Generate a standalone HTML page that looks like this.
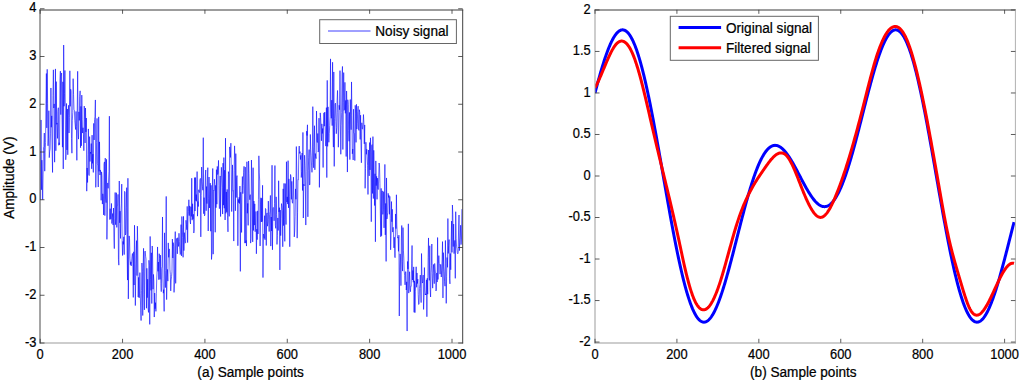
<!DOCTYPE html><html><head><meta charset="utf-8"><style>
html,body{margin:0;padding:0;background:#fff;overflow:hidden;}
svg{display:block;font-family:"Liberation Sans",sans-serif;font-kerning:none;}
text{white-space:pre;}
</style></head><body>
<svg width="1024" height="386" viewBox="0 0 1024 386">
<rect width="1024" height="386" fill="#fff"/>
<defs></defs>
<defs><clipPath id="cl"><rect x="40.0" y="9.8" width="422.7" height="333.0"/></clipPath><clipPath id="cr"><rect x="595.0" y="9.8" width="420.4" height="333.0"/></clipPath></defs>
<g clip-path="url(#cl)"><polyline points="40.61,199.75 41.02,119.96 41.44,189.75 41.85,160.16 42.26,175.03 42.67,199.75 43.08,174.02 43.49,147.33 43.91,146.36 44.32,133.02 44.73,171.18 45.14,152.26 45.55,142.33 45.97,103.51 46.38,73.53 46.79,127.88 47.20,69.33 47.61,103.72 48.02,145.80 48.44,138.16 48.85,110.73 49.26,157.64 49.67,151.44 50.08,149.08 50.50,133.91 50.91,87.96 51.32,127.23 51.73,115.86 52.14,150.30 52.55,172.46 52.97,95.54 53.38,69.83 53.79,108.03 54.20,103.91 54.61,162.19 55.02,113.99 55.44,68.91 55.85,150.76 56.26,81.61 56.67,124.31 57.08,122.94 57.50,138.40 57.91,111.54 58.32,107.72 58.73,145.29 59.14,142.72 59.55,144.74 59.97,80.17 60.38,71.15 60.79,114.63 61.20,76.20 61.61,72.98 62.03,119.88 62.44,147.16 62.85,81.81 63.26,168.92 63.67,45.04 64.08,106.26 64.50,93.40 64.91,70.48 65.32,110.91 65.73,159.79 66.14,154.04 66.56,103.48 66.97,149.94 67.38,108.98 67.79,154.76 68.20,115.40 68.61,105.29 69.03,133.04 69.44,117.77 69.85,70.82 70.26,106.35 70.67,89.25 71.09,91.29 71.50,138.57 71.91,153.19 72.32,120.73 72.73,112.81 73.14,78.66 73.56,94.28 73.97,109.40 74.38,110.11 74.79,120.47 75.20,124.99 75.61,129.52 76.03,111.47 76.44,126.36 76.85,160.34 77.26,108.96 77.67,71.30 78.09,132.05 78.50,139.13 78.91,111.87 79.32,120.42 79.73,96.68 80.14,90.84 80.56,147.74 80.97,106.39 81.38,145.82 81.79,95.11 82.20,119.35 82.62,133.02 83.03,127.74 83.44,134.44 83.85,150.69 84.26,106.08 84.67,119.66 85.09,142.98 85.50,108.00 85.91,131.87 86.32,118.04 86.73,191.16 87.15,167.97 87.56,182.47 87.97,154.34 88.38,128.92 88.79,174.49 89.20,175.55 89.62,136.61 90.03,161.50 90.44,152.08 90.85,153.56 91.26,143.55 91.68,168.82 92.09,135.12 92.50,163.37 92.91,154.13 93.32,172.42 93.73,123.38 94.15,139.98 94.56,119.50 94.97,116.89 95.38,99.95 95.79,187.35 96.20,164.44 96.62,142.34 97.03,118.38 97.44,163.72 97.85,165.84 98.26,187.02 98.68,116.87 99.09,171.36 99.50,141.89 99.91,175.04 100.32,169.94 100.73,173.15 101.15,200.34 101.56,171.86 101.97,175.90 102.38,204.09 102.79,193.79 103.21,196.87 103.62,214.93 104.03,164.18 104.44,161.90 104.85,215.65 105.26,158.09 105.68,197.96 106.09,202.63 106.50,159.34 106.91,239.35 107.32,216.09 107.74,182.94 108.15,188.34 108.56,181.02 108.97,171.41 109.38,116.19 109.79,219.58 110.21,208.71 110.62,219.18 111.03,218.51 111.44,203.45 111.85,223.53 112.27,217.27 112.68,213.49 113.09,225.05 113.50,208.02 113.91,237.92 114.32,248.62 114.74,218.24 115.15,192.50 115.56,224.66 115.97,217.84 116.38,192.74 116.79,227.41 117.21,205.68 117.62,205.54 118.03,194.39 118.44,259.35 118.85,265.17 119.27,181.00 119.68,222.81 120.09,211.16 120.50,238.45 120.91,212.31 121.32,203.89 121.74,184.10 122.15,240.25 122.56,255.51 122.97,241.50 123.38,244.33 123.80,236.77 124.21,254.61 124.62,191.34 125.03,192.61 125.44,234.97 125.85,233.29 126.27,207.70 126.68,187.67 127.09,250.26 127.50,280.08 127.91,178.26 128.33,298.88 128.74,259.73 129.15,235.90 129.56,238.85 129.97,258.47 130.38,264.69 130.80,261.76 131.21,265.91 131.62,261.60 132.03,256.44 132.44,253.47 132.86,263.88 133.27,297.41 133.68,251.81 134.09,285.02 134.50,225.23 134.91,252.21 135.33,305.55 135.74,275.54 136.15,255.82 136.56,240.61 136.97,275.63 137.38,226.17 137.80,247.02 138.21,297.02 138.62,277.36 139.03,297.93 139.44,297.02 139.86,272.61 140.27,293.81 140.68,310.11 141.09,320.56 141.50,290.78 141.91,263.03 142.33,271.50 142.74,315.52 143.15,267.78 143.56,248.32 143.97,294.61 144.39,309.87 144.80,251.91 145.21,251.02 145.62,256.26 146.03,259.03 146.44,308.24 146.86,268.32 147.27,297.69 147.68,279.19 148.09,308.11 148.50,312.42 148.92,260.29 149.33,265.27 149.74,324.38 150.15,236.44 150.56,279.57 150.97,290.38 151.39,252.79 151.80,303.52 152.21,245.98 152.62,255.93 153.03,289.21 153.44,274.43 153.86,281.06 154.27,317.04 154.68,293.03 155.09,308.71 155.50,302.68 155.92,311.37 156.33,293.71 156.74,277.96 157.15,270.52 157.56,246.95 157.97,271.33 158.39,262.04 158.80,279.69 159.21,253.71 159.62,258.30 160.03,279.33 160.45,255.14 160.86,283.64 161.27,291.64 161.68,268.34 162.09,266.59 162.50,216.99 162.92,278.82 163.33,293.18 163.74,289.61 164.15,311.39 164.56,232.85 164.98,270.43 165.39,287.62 165.80,270.43 166.21,196.41 166.62,299.61 167.03,277.27 167.45,269.37 167.86,281.13 168.27,242.90 168.68,257.33 169.09,249.42 169.51,249.06 169.92,269.20 170.33,274.41 170.74,290.89 171.15,280.02 171.56,276.57 171.98,271.70 172.39,239.09 172.80,258.04 173.21,242.62 173.62,246.11 174.04,292.38 174.45,282.68 174.86,245.03 175.27,231.61 175.68,283.36 176.09,250.13 176.51,238.87 176.92,238.28 177.33,253.83 177.74,237.69 178.15,241.25 178.56,246.45 178.98,233.25 179.39,241.35 179.80,249.66 180.21,254.53 180.62,253.36 181.04,224.64 181.45,255.90 181.86,216.51 182.27,227.91 182.68,237.68 183.09,257.32 183.51,216.37 183.92,250.61 184.33,232.65 184.74,239.16 185.15,243.19 185.57,242.75 185.98,220.27 186.39,224.26 186.80,229.76 187.21,206.40 187.62,242.58 188.04,216.92 188.45,211.69 188.86,199.76 189.27,215.64 189.68,205.86 190.10,220.82 190.51,224.02 190.92,206.75 191.33,216.45 191.74,178.23 192.15,220.16 192.57,203.76 192.98,218.95 193.39,214.30 193.80,233.03 194.21,230.02 194.62,177.61 195.04,211.06 195.45,177.56 195.86,200.68 196.27,194.58 196.68,201.34 197.10,171.58 197.51,216.16 197.92,201.42 198.33,206.52 198.74,189.74 199.15,192.30 199.57,192.53 199.98,179.83 200.39,178.40 200.80,236.87 201.21,195.45 201.63,167.06 202.04,181.86 202.45,186.83 202.86,190.23 203.27,137.68 203.68,213.71 204.10,197.64 204.51,215.87 204.92,214.81 205.33,176.11 205.74,170.01 206.16,210.78 206.57,186.54 206.98,203.62 207.39,180.92 207.80,167.67 208.21,230.99 208.63,198.28 209.04,177.01 209.45,207.98 209.86,194.86 210.27,183.12 210.69,231.22 211.10,185.32 211.51,259.44 211.92,253.76 212.33,191.15 212.74,168.48 213.16,254.16 213.57,190.19 213.98,190.60 214.39,179.20 214.80,184.51 215.21,232.28 215.63,185.37 216.04,207.70 216.45,169.66 216.86,204.19 217.27,166.41 217.69,174.52 218.10,172.85 218.51,160.40 218.92,185.40 219.33,208.68 219.74,208.15 220.16,175.96 220.57,216.52 220.98,180.27 221.39,167.32 221.80,177.81 222.22,187.35 222.63,214.05 223.04,163.15 223.45,205.15 223.86,157.58 224.27,208.24 224.69,170.19 225.10,219.97 225.51,138.15 225.92,213.34 226.33,191.95 226.75,211.90 227.16,189.41 227.57,215.76 227.98,231.84 228.39,171.61 228.80,174.47 229.22,216.36 229.63,146.92 230.04,150.44 230.45,157.45 230.86,143.16 231.28,169.13 231.69,211.56 232.10,187.93 232.51,164.90 232.92,191.11 233.33,190.70 233.75,241.08 234.16,170.58 234.57,145.87 234.98,159.39 235.39,210.79 235.81,153.63 236.22,197.53 236.63,177.74 237.04,175.61 237.45,195.08 237.86,245.76 238.28,199.36 238.69,202.66 239.10,197.31 239.51,203.50 239.92,186.06 240.33,271.38 240.75,192.23 241.16,202.20 241.57,232.46 241.98,190.32 242.39,176.56 242.81,193.64 243.22,185.61 243.63,172.33 244.04,166.35 244.45,193.14 244.86,243.15 245.28,167.10 245.69,242.91 246.10,240.41 246.51,246.05 246.92,161.74 247.34,213.28 247.75,203.42 248.16,225.38 248.57,160.97 248.98,173.32 249.39,195.12 249.81,199.76 250.22,194.64 250.63,243.12 251.04,238.21 251.45,160.04 251.87,180.00 252.28,196.95 252.69,241.89 253.10,167.69 253.51,230.49 253.92,201.04 254.34,225.15 254.75,203.86 255.16,231.72 255.57,225.50 255.98,211.46 256.39,253.78 256.81,229.20 257.22,239.66 257.63,210.86 258.04,233.97 258.45,199.79 258.87,155.82 259.28,172.90 259.69,181.06 260.10,245.96 260.51,204.15 260.92,197.77 261.34,222.01 261.75,198.29 262.16,221.60 262.57,185.28 262.98,277.58 263.40,234.12 263.81,235.60 264.22,238.38 264.63,215.70 265.04,239.81 265.45,208.44 265.87,209.19 266.28,245.52 266.69,214.19 267.10,212.88 267.51,226.20 267.93,221.93 268.34,201.09 268.75,219.63 269.16,231.56 269.57,214.43 269.98,211.36 270.40,195.44 270.81,246.10 271.22,217.01 271.63,230.93 272.04,165.23 272.46,249.81 272.87,208.82 273.28,207.45 273.69,208.08 274.10,220.79 274.51,203.68 274.93,165.53 275.34,225.27 275.75,228.37 276.16,196.84 276.57,214.77 276.99,244.45 277.40,235.39 277.81,217.94 278.22,230.48 278.63,180.78 279.04,211.90 279.46,207.69 279.87,269.94 280.28,210.07 280.69,235.63 281.10,218.75 281.51,203.61 281.93,205.97 282.34,210.42 282.75,246.76 283.16,188.83 283.57,225.62 283.99,183.40 284.40,219.78 284.81,241.37 285.22,183.56 285.63,201.79 286.04,224.54 286.46,161.72 286.87,202.05 287.28,196.86 287.69,204.08 288.10,160.65 288.52,207.90 288.93,178.86 289.34,196.75 289.75,246.74 290.16,194.98 290.57,174.47 290.99,177.10 291.40,199.34 291.81,181.36 292.22,202.15 292.63,203.26 293.05,195.11 293.46,177.15 293.87,199.09 294.28,236.88 294.69,230.97 295.10,216.60 295.52,188.90 295.93,199.26 296.34,146.56 296.75,170.13 297.16,238.13 297.57,212.84 297.99,179.42 298.40,179.68 298.81,151.39 299.22,146.03 299.63,153.45 300.05,151.64 300.46,159.52 300.87,155.36 301.28,177.50 301.69,171.51 302.10,153.05 302.52,190.49 302.93,132.42 303.34,218.01 303.75,184.26 304.16,185.82 304.58,155.21 304.99,165.20 305.40,186.35 305.81,225.06 306.22,171.81 306.63,131.14 307.05,135.57 307.46,124.81 307.87,216.83 308.28,170.20 308.69,157.76 309.11,149.58 309.52,185.07 309.93,184.23 310.34,134.45 310.75,149.48 311.16,155.83 311.58,165.93 311.99,172.33 312.40,162.11 312.81,106.64 313.22,146.28 313.64,167.78 314.05,147.73 314.46,125.71 314.87,169.82 315.28,153.50 315.69,156.76 316.11,158.60 316.52,111.03 316.93,140.56 317.34,142.51 317.75,133.49 318.16,152.05 318.58,150.33 318.99,118.14 319.40,187.39 319.81,152.30 320.22,112.86 320.64,117.71 321.05,126.62 321.46,140.85 321.87,123.86 322.28,133.51 322.69,128.48 323.11,167.51 323.52,123.75 323.93,112.89 324.34,126.20 324.75,112.06 325.17,126.68 325.58,145.87 325.99,146.07 326.40,107.65 326.81,177.60 327.22,80.38 327.64,146.38 328.05,106.87 328.46,132.99 328.87,142.30 329.28,133.62 329.70,125.65 330.11,116.69 330.52,58.89 330.93,110.86 331.34,118.28 331.75,100.15 332.17,125.65 332.58,62.23 332.99,129.19 333.40,147.11 333.81,71.93 334.23,166.40 334.64,118.69 335.05,104.08 335.46,103.13 335.87,121.66 336.28,133.73 336.70,127.75 337.11,100.51 337.52,90.48 337.93,112.52 338.34,147.21 338.75,131.05 339.17,105.28 339.58,109.70 339.99,70.64 340.40,124.94 340.81,154.27 341.23,125.86 341.64,112.44 342.05,74.96 342.46,66.44 342.87,149.51 343.28,102.80 343.70,72.58 344.11,110.39 344.52,109.15 344.93,82.35 345.34,113.32 345.76,100.42 346.17,156.53 346.58,90.98 346.99,109.65 347.40,172.06 347.81,99.74 348.23,104.55 348.64,130.59 349.05,141.25 349.46,112.41 349.87,159.60 350.29,99.50 350.70,114.79 351.11,129.66 351.52,81.93 351.93,115.41 352.34,153.77 352.76,149.01 353.17,159.97 353.58,109.17 353.99,133.26 354.40,133.47 354.82,160.55 355.23,105.34 355.64,113.12 356.05,142.37 356.46,104.29 356.87,129.08 357.29,123.31 357.70,111.25 358.11,106.16 358.52,128.98 358.93,130.43 359.34,109.72 359.76,112.62 360.17,139.43 360.58,115.16 360.99,143.93 361.40,162.79 361.82,122.79 362.23,128.57 362.64,129.19 363.05,124.49 363.46,114.57 363.87,122.67 364.29,143.83 364.70,124.92 365.11,188.34 365.52,168.45 365.93,142.24 366.35,154.29 366.76,149.25 367.17,156.14 367.58,165.28 367.99,194.46 368.40,149.97 368.82,165.71 369.23,175.87 369.64,142.53 370.05,169.92 370.46,137.81 370.88,152.96 371.29,221.71 371.70,145.46 372.11,144.60 372.52,193.48 372.93,136.60 373.35,198.56 373.76,150.35 374.17,174.13 374.58,205.52 374.99,173.77 375.41,241.77 375.82,160.92 376.23,185.63 376.64,176.37 377.05,199.33 377.46,178.11 377.88,188.21 378.29,189.51 378.70,177.27 379.11,163.00 379.52,165.99 379.94,183.62 380.35,214.04 380.76,236.76 381.17,188.37 381.58,235.75 381.99,190.81 382.41,191.09 382.82,214.39 383.23,209.61 383.64,191.64 384.05,227.86 384.46,205.89 384.88,164.41 385.29,234.92 385.70,203.45 386.11,261.41 386.52,177.94 386.94,218.99 387.35,215.89 387.76,212.48 388.17,193.32 388.58,197.42 388.99,195.33 389.41,214.29 389.82,196.39 390.23,218.38 390.64,249.80 391.05,235.85 391.47,201.56 391.88,221.75 392.29,209.29 392.70,232.05 393.11,227.29 393.52,234.85 393.94,247.90 394.35,237.26 394.76,257.24 395.17,257.71 395.58,213.97 396.00,228.63 396.41,194.78 396.82,224.97 397.23,234.48 397.64,238.09 398.05,237.33 398.47,251.34 398.88,235.15 399.29,316.01 399.70,267.94 400.11,253.92 400.52,259.03 400.94,285.63 401.35,238.90 401.76,225.49 402.17,261.59 402.58,271.10 403.00,227.62 403.41,250.19 403.82,258.08 404.23,271.26 404.64,275.24 405.05,284.85 405.47,271.79 405.88,271.67 406.29,290.01 406.70,281.83 407.11,331.06 407.53,261.49 407.94,268.92 408.35,223.82 408.76,293.12 409.17,281.16 409.58,271.76 410.00,288.89 410.41,291.73 410.82,286.09 411.23,286.19 411.64,263.88 412.06,245.49 412.47,280.00 412.88,270.47 413.29,282.31 413.70,266.86 414.11,312.28 414.53,280.89 414.94,312.67 415.35,291.26 415.76,281.36 416.17,266.78 416.59,287.28 417.00,272.95 417.41,283.53 417.82,279.15 418.23,294.64 418.64,304.46 419.06,304.20 419.47,288.50 419.88,284.53 420.29,275.07 420.70,288.74 421.12,302.58 421.53,253.52 421.94,275.57 422.35,283.05 422.76,281.81 423.17,275.06 423.59,309.43 424.00,297.27 424.41,267.55 424.82,289.88 425.23,294.98 425.64,293.87 426.06,294.95 426.47,279.82 426.88,316.74 427.29,278.20 427.70,294.20 428.12,257.62 428.53,237.95 428.94,275.22 429.35,280.35 429.76,245.74 430.17,289.69 430.59,296.99 431.00,272.60 431.41,265.72 431.82,244.00 432.23,273.74 432.65,288.16 433.06,278.20 433.47,264.44 433.88,272.59 434.29,283.68 434.70,263.48 435.12,269.05 435.53,273.40 435.94,290.98 436.35,289.98 436.76,272.93 437.18,282.04 437.59,237.53 438.00,279.48 438.41,263.23 438.82,255.61 439.23,263.30 439.65,264.91 440.06,274.15 440.47,264.64 440.88,264.32 441.29,277.02 441.70,270.10 442.12,259.91 442.53,241.59 442.94,297.96 443.35,252.66 443.76,266.84 444.18,271.81 444.59,281.76 445.00,286.19 445.41,240.47 445.82,263.29 446.23,303.37 446.65,276.31 447.06,257.53 447.47,267.32 447.88,218.54 448.29,253.45 448.71,245.34 449.12,239.58 449.53,278.82 449.94,283.88 450.35,253.51 450.76,269.76 451.18,241.85 451.59,221.06 452.00,252.39 452.41,205.00 452.82,214.33 453.24,246.56 453.65,224.07 454.06,253.62 454.47,245.01 454.88,240.42 455.29,278.35 455.71,211.71 456.12,238.25 456.53,246.21 456.94,248.80 457.35,252.75 457.77,253.80 458.18,252.81 458.59,229.05 459.00,215.01 459.41,250.65 459.82,242.26 460.24,237.13 460.65,225.21 461.06,244.60 461.47,239.08 461.88,209.13" fill="none" stroke="#0000ff" stroke-width="0.6" stroke-linejoin="miter"/></g>
<line x1="39.5" y1="10" x2="463.2" y2="10" stroke="#3a3a3a"/>
<line x1="39.5" y1="343" x2="463.2" y2="343" stroke="#9b9b9b"/>
<line x1="40.0" y1="9.5" x2="40.0" y2="343.5" stroke="#4a4a4a"/>
<line x1="462.7" y1="9.5" x2="462.7" y2="343.5" stroke="#404040"/>
<line x1="40.20" y1="342.8" x2="40.20" y2="338.8" stroke="#333" stroke-width="0.8"/>
<line x1="40.20" y1="9.8" x2="40.20" y2="13.8" stroke="#333" stroke-width="0.8"/>
<text transform="translate(40.20,358.70) scale(0.9200,1.0000)" text-anchor="middle" font-size="14.0" fill="#000" stroke="#000" stroke-width="0.22">0</text>
<line x1="122.56" y1="342.8" x2="122.56" y2="338.8" stroke="#333" stroke-width="0.8"/>
<line x1="122.56" y1="9.8" x2="122.56" y2="13.8" stroke="#333" stroke-width="0.8"/>
<text transform="translate(122.56,358.70) scale(0.9200,1.0000)" text-anchor="middle" font-size="14.0" fill="#000" stroke="#000" stroke-width="0.22">200</text>
<line x1="204.92" y1="342.8" x2="204.92" y2="338.8" stroke="#333" stroke-width="0.8"/>
<line x1="204.92" y1="9.8" x2="204.92" y2="13.8" stroke="#333" stroke-width="0.8"/>
<text transform="translate(204.92,358.70) scale(0.9200,1.0000)" text-anchor="middle" font-size="14.0" fill="#000" stroke="#000" stroke-width="0.22">400</text>
<line x1="287.28" y1="342.8" x2="287.28" y2="338.8" stroke="#333" stroke-width="0.8"/>
<line x1="287.28" y1="9.8" x2="287.28" y2="13.8" stroke="#333" stroke-width="0.8"/>
<text transform="translate(287.28,358.70) scale(0.9200,1.0000)" text-anchor="middle" font-size="14.0" fill="#000" stroke="#000" stroke-width="0.22">600</text>
<line x1="369.64" y1="342.8" x2="369.64" y2="338.8" stroke="#333" stroke-width="0.8"/>
<line x1="369.64" y1="9.8" x2="369.64" y2="13.8" stroke="#333" stroke-width="0.8"/>
<text transform="translate(369.64,358.70) scale(0.9200,1.0000)" text-anchor="middle" font-size="14.0" fill="#000" stroke="#000" stroke-width="0.22">800</text>
<line x1="452.00" y1="342.8" x2="452.00" y2="338.8" stroke="#333" stroke-width="0.8"/>
<line x1="452.00" y1="9.8" x2="452.00" y2="13.8" stroke="#333" stroke-width="0.8"/>
<text transform="translate(452.00,358.70) scale(0.9200,1.0000)" text-anchor="middle" font-size="14.0" fill="#000" stroke="#000" stroke-width="0.22">1000</text>
<line x1="40.0" y1="343.00" x2="44.5" y2="343.00" stroke="#333" stroke-width="0.8"/>
<line x1="462.7" y1="343.00" x2="458.2" y2="343.00" stroke="#333" stroke-width="0.8"/>
<text transform="translate(36.40,346.70) scale(0.9200,1.0000)" text-anchor="end" font-size="14.0" fill="#000" stroke="#000" stroke-width="0.22">-3</text>
<line x1="40.0" y1="295.25" x2="44.5" y2="295.25" stroke="#333" stroke-width="0.8"/>
<line x1="462.7" y1="295.25" x2="458.2" y2="295.25" stroke="#333" stroke-width="0.8"/>
<text transform="translate(36.40,298.95) scale(0.9200,1.0000)" text-anchor="end" font-size="14.0" fill="#000" stroke="#000" stroke-width="0.22">-2</text>
<line x1="40.0" y1="247.50" x2="44.5" y2="247.50" stroke="#333" stroke-width="0.8"/>
<line x1="462.7" y1="247.50" x2="458.2" y2="247.50" stroke="#333" stroke-width="0.8"/>
<text transform="translate(36.40,251.20) scale(0.9200,1.0000)" text-anchor="end" font-size="14.0" fill="#000" stroke="#000" stroke-width="0.22">-1</text>
<line x1="40.0" y1="199.75" x2="44.5" y2="199.75" stroke="#333" stroke-width="0.8"/>
<line x1="462.7" y1="199.75" x2="458.2" y2="199.75" stroke="#333" stroke-width="0.8"/>
<text transform="translate(36.40,203.45) scale(0.9200,1.0000)" text-anchor="end" font-size="14.0" fill="#000" stroke="#000" stroke-width="0.22">0</text>
<line x1="40.0" y1="152.00" x2="44.5" y2="152.00" stroke="#333" stroke-width="0.8"/>
<line x1="462.7" y1="152.00" x2="458.2" y2="152.00" stroke="#333" stroke-width="0.8"/>
<text transform="translate(36.40,155.70) scale(0.9200,1.0000)" text-anchor="end" font-size="14.0" fill="#000" stroke="#000" stroke-width="0.22">1</text>
<line x1="40.0" y1="104.25" x2="44.5" y2="104.25" stroke="#333" stroke-width="0.8"/>
<line x1="462.7" y1="104.25" x2="458.2" y2="104.25" stroke="#333" stroke-width="0.8"/>
<text transform="translate(36.40,107.95) scale(0.9200,1.0000)" text-anchor="end" font-size="14.0" fill="#000" stroke="#000" stroke-width="0.22">2</text>
<line x1="40.0" y1="56.50" x2="44.5" y2="56.50" stroke="#333" stroke-width="0.8"/>
<line x1="462.7" y1="56.50" x2="458.2" y2="56.50" stroke="#333" stroke-width="0.8"/>
<text transform="translate(36.40,60.20) scale(0.9200,1.0000)" text-anchor="end" font-size="14.0" fill="#000" stroke="#000" stroke-width="0.22">3</text>
<line x1="40.0" y1="8.75" x2="44.5" y2="8.75" stroke="#333" stroke-width="0.8"/>
<line x1="462.7" y1="8.75" x2="458.2" y2="8.75" stroke="#333" stroke-width="0.8"/>
<text transform="translate(36.40,12.45) scale(0.9200,1.0000)" text-anchor="end" font-size="14.0" fill="#000" stroke="#000" stroke-width="0.22">4</text>
<text transform="translate(250.60,376.60) scale(1.0000,1.0600)" text-anchor="middle" font-size="13.6" fill="#000" stroke="#000" stroke-width="0.22">(a) Sample points</text>
<text transform="translate(13.50,177.70) rotate(-90) scale(1.0000,1.0600)" text-anchor="middle" font-size="13.6" fill="#000" stroke="#000" stroke-width="0.22">Amplitude (V)</text>
<rect x="319.7" y="19.7" width="136.7" height="23.8" fill="#fff" stroke="#666" stroke-width="1"/>
<line x1="328" y1="31" x2="370.5" y2="31" stroke="#0000ff" stroke-width="0.75"/>
<text transform="translate(375.30,36.10) scale(1.0000,1.0600)" font-size="13.6" fill="#000" stroke="#000" stroke-width="0.22">Noisy signal</text>
<g clip-path="url(#cr)">
<polyline points="595.00,92.97 595.41,91.41 595.82,89.86 596.23,88.31 596.64,86.77 597.05,85.25 597.46,83.73 597.87,82.23 598.28,80.73 598.69,79.25 599.10,77.78 599.51,76.32 599.92,74.88 600.32,73.45 600.73,72.03 601.14,70.63 601.55,69.25 601.96,67.88 602.37,66.53 602.78,65.19 603.19,63.88 603.60,62.58 604.01,61.30 604.42,60.03 604.83,58.79 605.24,57.57 605.65,56.37 606.06,55.19 606.47,54.03 606.88,52.89 607.29,51.78 607.70,50.69 608.11,49.62 608.52,48.57 608.93,47.55 609.34,46.56 609.75,45.59 610.16,44.64 610.56,43.72 610.97,42.83 611.38,41.96 611.79,41.12 612.20,40.31 612.61,39.53 613.02,38.77 613.43,38.04 613.84,37.35 614.25,36.68 614.66,36.04 615.07,35.43 615.48,34.85 615.89,34.30 616.30,33.78 616.71,33.29 617.12,32.83 617.53,32.41 617.94,32.02 618.35,31.66 618.76,31.33 619.17,31.03 619.58,30.77 619.99,30.54 620.40,30.34 620.80,30.18 621.21,30.04 621.62,29.95 622.03,29.88 622.44,29.86 622.85,29.86 623.26,29.90 623.67,29.97 624.08,30.08 624.49,30.22 624.90,30.40 625.31,30.61 625.72,30.86 626.13,31.14 626.54,31.45 626.95,31.80 627.36,32.19 627.77,32.61 628.18,33.06 628.59,33.55 629.00,34.08 629.41,34.64 629.82,35.23 630.23,35.86 630.64,36.52 631.04,37.22 631.45,37.95 631.86,38.72 632.27,39.52 632.68,40.35 633.09,41.22 633.50,42.12 633.91,43.06 634.32,44.02 634.73,45.03 635.14,46.06 635.55,47.13 635.96,48.23 636.37,49.36 636.78,50.53 637.19,51.72 637.60,52.95 638.01,54.21 638.42,55.50 638.83,56.83 639.24,58.18 639.65,59.56 640.06,60.97 640.47,62.42 640.88,63.89 641.28,65.39 641.69,66.92 642.10,68.48 642.51,70.06 642.92,71.67 643.33,73.31 643.74,74.98 644.15,76.67 644.56,78.39 644.97,80.13 645.38,81.90 645.79,83.70 646.20,85.51 646.61,87.36 647.02,89.22 647.43,91.11 647.84,93.02 648.25,94.95 648.66,96.90 649.07,98.88 649.48,100.87 649.89,102.88 650.30,104.92 650.71,106.97 651.12,109.04 651.52,111.13 651.93,113.23 652.34,115.35 652.75,117.49 653.16,119.64 653.57,121.81 653.98,123.99 654.39,126.19 654.80,128.40 655.21,130.62 655.62,132.85 656.03,135.10 656.44,137.35 656.85,139.62 657.26,141.90 657.67,144.18 658.08,146.47 658.49,148.78 658.90,151.09 659.31,153.40 659.72,155.72 660.13,158.05 660.54,160.38 660.95,162.72 661.36,165.06 661.76,167.40 662.17,169.74 662.58,172.09 662.99,174.43 663.40,176.78 663.81,179.13 664.22,181.48 664.63,183.82 665.04,186.16 665.45,188.50 665.86,190.84 666.27,193.17 666.68,195.50 667.09,197.83 667.50,200.14 667.91,202.45 668.32,204.76 668.73,207.06 669.14,209.34 669.55,211.62 669.96,213.89 670.37,216.15 670.78,218.40 671.19,220.64 671.60,222.86 672.00,225.08 672.41,227.28 672.82,229.46 673.23,231.64 673.64,233.80 674.05,235.94 674.46,238.06 674.87,240.18 675.28,242.27 675.69,244.34 676.10,246.40 676.51,248.44 676.92,250.46 677.33,252.46 677.74,254.44 678.15,256.40 678.56,258.34 678.97,260.26 679.38,262.15 679.79,264.02 680.20,265.87 680.61,267.70 681.02,269.50 681.43,271.28 681.84,273.03 682.24,274.76 682.65,276.46 683.06,278.13 683.47,279.78 683.88,281.41 684.29,283.00 684.70,284.57 685.11,286.10 685.52,287.61 685.93,289.10 686.34,290.55 686.75,291.97 687.16,293.36 687.57,294.73 687.98,296.06 688.39,297.36 688.80,298.63 689.21,299.87 689.62,301.08 690.03,302.25 690.44,303.40 690.85,304.51 691.26,305.59 691.67,306.63 692.08,307.65 692.48,308.63 692.89,309.57 693.30,310.48 693.71,311.36 694.12,312.21 694.53,313.02 694.94,313.80 695.35,314.54 695.76,315.25 696.17,315.93 696.58,316.57 696.99,317.17 697.40,317.74 697.81,318.28 698.22,318.78 698.63,319.24 699.04,319.68 699.45,320.07 699.86,320.44 700.27,320.76 700.68,321.05 701.09,321.31 701.50,321.54 701.91,321.72 702.32,321.88 702.72,322.00 703.13,322.08 703.54,322.13 703.95,322.15 704.36,322.13 704.77,322.08 705.18,321.99 705.59,321.87 706.00,321.72 706.41,321.53 706.82,321.31 707.23,321.06 707.64,320.77 708.05,320.46 708.46,320.11 708.87,319.72 709.28,319.31 709.69,318.86 710.10,318.39 710.51,317.88 710.92,317.34 711.33,316.77 711.74,316.17 712.15,315.54 712.56,314.88 712.96,314.19 713.37,313.47 713.78,312.73 714.19,311.95 714.60,311.15 715.01,310.32 715.42,309.46 715.83,308.58 716.24,307.67 716.65,306.73 717.06,305.77 717.47,304.78 717.88,303.77 718.29,302.73 718.70,301.67 719.11,300.59 719.52,299.48 719.93,298.35 720.34,297.20 720.75,296.03 721.16,294.83 721.57,293.62 721.98,292.38 722.39,291.13 722.80,289.85 723.20,288.56 723.61,287.25 724.02,285.92 724.43,284.57 724.84,283.21 725.25,281.83 725.66,280.43 726.07,279.02 726.48,277.60 726.89,276.16 727.30,274.71 727.71,273.24 728.12,271.76 728.53,270.27 728.94,268.77 729.35,267.26 729.76,265.74 730.17,264.20 730.58,262.66 730.99,261.11 731.40,259.55 731.81,257.99 732.22,256.41 732.63,254.83 733.04,253.25 733.44,251.66 733.85,250.06 734.26,248.46 734.67,246.86 735.08,245.25 735.49,243.64 735.90,242.03 736.31,240.42 736.72,238.80 737.13,237.19 737.54,235.57 737.95,233.96 738.36,232.35 738.77,230.74 739.18,229.13 739.59,227.53 740.00,225.93 740.41,224.33 740.82,222.74 741.23,221.15 741.64,219.57 742.05,217.99 742.46,216.42 742.87,214.86 743.28,213.30 743.68,211.76 744.09,210.22 744.50,208.69 744.91,207.17 745.32,205.66 745.73,204.16 746.14,202.67 746.55,201.20 746.96,199.73 747.37,198.28 747.78,196.84 748.19,195.41 748.60,194.00 749.01,192.60 749.42,191.22 749.83,189.85 750.24,188.49 750.65,187.15 751.06,185.83 751.47,184.52 751.88,183.23 752.29,181.96 752.70,180.71 753.11,179.47 753.52,178.25 753.92,177.05 754.33,175.87 754.74,174.71 755.15,173.57 755.56,172.44 755.97,171.34 756.38,170.26 756.79,169.20 757.20,168.16 757.61,167.14 758.02,166.14 758.43,165.16 758.84,164.21 759.25,163.27 759.66,162.36 760.07,161.48 760.48,160.61 760.89,159.77 761.30,158.95 761.71,158.15 762.12,157.38 762.53,156.63 762.94,155.91 763.35,155.20 763.76,154.53 764.16,153.87 764.57,153.24 764.98,152.64 765.39,152.06 765.80,151.50 766.21,150.96 766.62,150.46 767.03,149.97 767.44,149.51 767.85,149.08 768.26,148.67 768.67,148.28 769.08,147.92 769.49,147.58 769.90,147.26 770.31,146.97 770.72,146.71 771.13,146.47 771.54,146.25 771.95,146.06 772.36,145.89 772.77,145.74 773.18,145.62 773.59,145.52 774.00,145.45 774.40,145.40 774.81,145.37 775.22,145.36 775.63,145.38 776.04,145.42 776.45,145.48 776.86,145.56 777.27,145.67 777.68,145.80 778.09,145.95 778.50,146.12 778.91,146.31 779.32,146.52 779.73,146.76 780.14,147.01 780.55,147.28 780.96,147.57 781.37,147.89 781.78,148.22 782.19,148.57 782.60,148.94 783.01,149.32 783.42,149.73 783.83,150.15 784.24,150.59 784.64,151.04 785.05,151.52 785.46,152.01 785.87,152.51 786.28,153.03 786.69,153.56 787.10,154.11 787.51,154.67 787.92,155.25 788.33,155.84 788.74,156.44 789.15,157.06 789.56,157.69 789.97,158.33 790.38,158.98 790.79,159.64 791.20,160.31 791.61,160.99 792.02,161.68 792.43,162.38 792.84,163.09 793.25,163.81 793.66,164.53 794.07,165.27 794.48,166.00 794.88,166.75 795.29,167.50 795.70,168.26 796.11,169.02 796.52,169.78 796.93,170.55 797.34,171.32 797.75,172.10 798.16,172.88 798.57,173.65 798.98,174.44 799.39,175.22 799.80,176.00 800.21,176.78 800.62,177.56 801.03,178.35 801.44,179.12 801.85,179.90 802.26,180.68 802.67,181.45 803.08,182.22 803.49,182.98 803.90,183.74 804.31,184.50 804.72,185.25 805.12,186.00 805.53,186.73 805.94,187.47 806.35,188.19 806.76,188.91 807.17,189.62 807.58,190.32 807.99,191.01 808.40,191.69 808.81,192.36 809.22,193.02 809.63,193.67 810.04,194.31 810.45,194.94 810.86,195.56 811.27,196.16 811.68,196.75 812.09,197.33 812.50,197.89 812.91,198.44 813.32,198.97 813.73,199.49 814.14,199.99 814.55,200.48 814.96,200.96 815.36,201.41 815.77,201.85 816.18,202.27 816.59,202.68 817.00,203.06 817.41,203.43 817.82,203.78 818.23,204.11 818.64,204.43 819.05,204.72 819.46,204.99 819.87,205.24 820.28,205.48 820.69,205.69 821.10,205.88 821.51,206.05 821.92,206.20 822.33,206.33 822.74,206.44 823.15,206.52 823.56,206.58 823.97,206.62 824.38,206.64 824.79,206.63 825.20,206.60 825.60,206.55 826.01,206.48 826.42,206.38 826.83,206.26 827.24,206.11 827.65,205.94 828.06,205.75 828.47,205.53 828.88,205.29 829.29,205.03 829.70,204.74 830.11,204.42 830.52,204.08 830.93,203.72 831.34,203.33 831.75,202.92 832.16,202.49 832.57,202.03 832.98,201.54 833.39,201.04 833.80,200.50 834.21,199.94 834.62,199.36 835.03,198.76 835.44,198.13 835.84,197.47 836.25,196.80 836.66,196.09 837.07,195.37 837.48,194.62 837.89,193.85 838.30,193.05 838.71,192.23 839.12,191.39 839.53,190.52 839.94,189.64 840.35,188.73 840.76,187.79 841.17,186.84 841.58,185.86 841.99,184.86 842.40,183.84 842.81,182.80 843.22,181.74 843.63,180.66 844.04,179.56 844.45,178.43 844.86,177.29 845.27,176.13 845.68,174.95 846.08,173.75 846.49,172.53 846.90,171.29 847.31,170.04 847.72,168.77 848.13,167.48 848.54,166.17 848.95,164.85 849.36,163.51 849.77,162.15 850.18,160.78 850.59,159.40 851.00,158.00 851.41,156.59 851.82,155.16 852.23,153.72 852.64,152.27 853.05,150.80 853.46,149.33 853.87,147.84 854.28,146.34 854.69,144.83 855.10,143.31 855.51,141.78 855.92,140.24 856.32,138.70 856.73,137.14 857.14,135.58 857.55,134.01 857.96,132.43 858.37,130.85 858.78,129.26 859.19,127.67 859.60,126.07 860.01,124.47 860.42,122.87 860.83,121.26 861.24,119.65 861.65,118.04 862.06,116.43 862.47,114.81 862.88,113.20 863.29,111.58 863.70,109.97 864.11,108.36 864.52,106.75 864.93,105.14 865.34,103.54 865.75,101.94 866.16,100.34 866.56,98.75 866.97,97.17 867.38,95.59 867.79,94.01 868.20,92.45 868.61,90.89 869.02,89.34 869.43,87.80 869.84,86.26 870.25,84.74 870.66,83.23 871.07,81.73 871.48,80.24 871.89,78.76 872.30,77.29 872.71,75.84 873.12,74.40 873.53,72.98 873.94,71.57 874.35,70.17 874.76,68.79 875.17,67.43 875.58,66.08 875.99,64.75 876.40,63.44 876.80,62.15 877.21,60.87 877.62,59.62 878.03,58.38 878.44,57.17 878.85,55.97 879.26,54.80 879.67,53.65 880.08,52.52 880.49,51.41 880.90,50.33 881.31,49.27 881.72,48.23 882.13,47.22 882.54,46.23 882.95,45.27 883.36,44.33 883.77,43.42 884.18,42.54 884.59,41.68 885.00,40.85 885.41,40.05 885.82,39.27 886.23,38.53 886.64,37.81 887.04,37.12 887.45,36.46 887.86,35.83 888.27,35.23 888.68,34.66 889.09,34.12 889.50,33.61 889.91,33.14 890.32,32.69 890.73,32.28 891.14,31.89 891.55,31.54 891.96,31.23 892.37,30.94 892.78,30.69 893.19,30.47 893.60,30.28 894.01,30.13 894.42,30.01 894.83,29.92 895.24,29.87 895.65,29.85 896.06,29.87 896.47,29.92 896.88,30.00 897.28,30.12 897.69,30.28 898.10,30.46 898.51,30.69 898.92,30.95 899.33,31.24 899.74,31.56 900.15,31.93 900.56,32.32 900.97,32.76 901.38,33.22 901.79,33.72 902.20,34.26 902.61,34.83 903.02,35.43 903.43,36.07 903.84,36.75 904.25,37.46 904.66,38.20 905.07,38.98 905.48,39.79 905.89,40.64 906.30,41.52 906.71,42.43 907.12,43.37 907.52,44.35 907.93,45.37 908.34,46.41 908.75,47.49 909.16,48.60 909.57,49.75 909.98,50.92 910.39,52.13 910.80,53.37 911.21,54.64 911.62,55.94 912.03,57.27 912.44,58.64 912.85,60.03 913.26,61.45 913.67,62.90 914.08,64.39 914.49,65.90 914.90,67.43 915.31,69.00 915.72,70.59 916.13,72.22 916.54,73.87 916.95,75.54 917.36,77.24 917.76,78.97 918.17,80.72 918.58,82.50 918.99,84.30 919.40,86.13 919.81,87.98 920.22,89.85 920.63,91.74 921.04,93.66 921.45,95.60 921.86,97.56 922.27,99.54 922.68,101.54 923.09,103.56 923.50,105.60 923.91,107.66 924.32,109.73 924.73,111.82 925.14,113.94 925.55,116.06 925.96,118.20 926.37,120.36 926.78,122.54 927.19,124.72 927.60,126.92 928.00,129.14 928.41,131.36 928.82,133.60 929.23,135.85 929.64,138.11 930.05,140.38 930.46,142.66 930.87,144.94 931.28,147.24 931.69,149.55 932.10,151.86 932.51,154.17 932.92,156.50 933.33,158.83 933.74,161.16 934.15,163.50 934.56,165.84 934.97,168.18 935.38,170.52 935.79,172.87 936.20,175.22 936.61,177.57 937.02,179.91 937.43,182.26 937.84,184.60 938.24,186.94 938.65,189.28 939.06,191.62 939.47,193.95 939.88,196.28 940.29,198.60 940.70,200.91 941.11,203.22 941.52,205.53 941.93,207.82 942.34,210.10 942.75,212.38 943.16,214.65 943.57,216.90 943.98,219.15 944.39,221.38 944.80,223.60 945.21,225.81 945.62,228.01 946.03,230.19 946.44,232.36 946.85,234.51 947.26,236.65 947.67,238.77 948.08,240.87 948.48,242.96 948.89,245.03 949.30,247.08 949.71,249.12 950.12,251.13 950.53,253.12 950.94,255.10 951.35,257.05 951.76,258.98 952.17,260.89 952.58,262.78 952.99,264.64 953.40,266.49 953.81,268.30 954.22,270.10 954.63,271.87 955.04,273.61 955.45,275.33 955.86,277.02 956.27,278.69 956.68,280.33 957.09,281.94 957.50,283.52 957.91,285.08 958.32,286.61 958.72,288.11 959.13,289.58 959.54,291.03 959.95,292.44 960.36,293.82 960.77,295.17 961.18,296.50 961.59,297.79 962.00,299.05 962.41,300.28 962.82,301.47 963.23,302.64 963.64,303.77 964.05,304.87 964.46,305.94 964.87,306.97 965.28,307.98 965.69,308.94 966.10,309.88 966.51,310.78 966.92,311.65 967.33,312.48 967.74,313.28 968.15,314.05 968.56,314.78 968.96,315.48 969.37,316.14 969.78,316.77 970.19,317.36 970.60,317.92 971.01,318.45 971.42,318.94 971.83,319.39 972.24,319.81 972.65,320.20 973.06,320.55 973.47,320.86 973.88,321.14 974.29,321.39 974.70,321.60 975.11,321.78 975.52,321.92 975.93,322.03 976.34,322.10 976.75,322.14 977.16,322.14 977.57,322.12 977.98,322.05 978.39,321.96 978.80,321.82 979.20,321.66 979.61,321.46 980.02,321.23 980.43,320.97 980.84,320.67 981.25,320.34 981.66,319.98 982.07,319.59 982.48,319.17 982.89,318.71 983.30,318.22 983.71,317.70 984.12,317.15 984.53,316.57 984.94,315.96 985.35,315.32 985.76,314.65 986.17,313.96 986.58,313.23 986.99,312.47 987.40,311.69 987.81,310.88 988.22,310.04 988.63,309.17 989.04,308.28 989.44,307.36 989.85,306.41 990.26,305.44 990.67,304.45 991.08,303.43 991.49,302.38 991.90,301.31 992.31,300.22 992.72,299.11 993.13,297.97 993.54,296.81 993.95,295.63 994.36,294.43 994.77,293.21 995.18,291.97 995.59,290.70 996.00,289.42 996.41,288.12 996.82,286.81 997.23,285.47 997.64,284.12 998.05,282.75 998.46,281.37 998.87,279.97 999.28,278.55 999.68,277.12 1000.09,275.68 1000.50,274.22 1000.91,272.75 1001.32,271.27 1001.73,269.77 1002.14,268.27 1002.55,266.75 1002.96,265.23 1003.37,263.69 1003.78,262.14 1004.19,260.59 1004.60,259.03 1005.01,257.46 1005.42,255.89 1005.83,254.30 1006.24,252.72 1006.65,251.12 1007.06,249.53 1007.47,247.93 1007.88,246.32 1008.29,244.71 1008.70,243.10 1009.11,241.49 1009.52,239.88 1009.92,238.26 1010.33,236.65 1010.74,235.04 1011.15,233.42 1011.56,231.81 1011.97,230.20 1012.38,228.60 1012.79,226.99 1013.20,225.39 1013.61,223.80 1014.02,222.21" fill="none" stroke="#0000ff" stroke-width="3" stroke-linejoin="round"/>
<polyline points="595.00,87.83 595.41,87.09 595.82,86.33 596.23,85.55 596.64,84.74 597.05,83.92 597.46,83.08 597.87,82.22 598.28,81.34 598.69,80.45 599.10,79.55 599.51,78.64 599.92,77.71 600.32,76.77 600.73,75.82 601.14,74.87 601.55,73.91 601.96,72.94 602.37,71.97 602.78,70.99 603.19,70.01 603.60,69.03 604.01,68.05 604.42,67.07 604.83,66.09 605.24,65.12 605.65,64.15 606.06,63.18 606.47,62.22 606.88,61.27 607.29,60.33 607.70,59.39 608.11,58.47 608.52,57.56 608.93,56.66 609.34,55.78 609.75,54.91 610.16,54.06 610.56,53.23 610.97,52.41 611.38,51.62 611.79,50.84 612.20,50.09 612.61,49.36 613.02,48.66 613.43,47.98 613.84,47.32 614.25,46.70 614.66,46.10 615.07,45.53 615.48,45.00 615.89,44.49 616.30,44.02 616.71,43.59 617.12,43.18 617.53,42.82 617.94,42.48 618.35,42.18 618.76,41.92 619.17,41.69 619.58,41.50 619.99,41.34 620.40,41.22 620.80,41.13 621.21,41.08 621.62,41.06 622.03,41.07 622.44,41.13 622.85,41.21 623.26,41.33 623.67,41.49 624.08,41.68 624.49,41.91 624.90,42.17 625.31,42.47 625.72,42.80 626.13,43.17 626.54,43.58 626.95,44.01 627.36,44.49 627.77,45.00 628.18,45.54 628.59,46.12 629.00,46.74 629.41,47.39 629.82,48.08 630.23,48.80 630.64,49.56 631.04,50.35 631.45,51.18 631.86,52.05 632.27,52.95 632.68,53.88 633.09,54.86 633.50,55.86 633.91,56.91 634.32,57.99 634.73,59.10 635.14,60.25 635.55,61.43 635.96,62.65 636.37,63.89 636.78,65.17 637.19,66.48 637.60,67.81 638.01,69.17 638.42,70.56 638.83,71.98 639.24,73.42 639.65,74.89 640.06,76.38 640.47,77.89 640.88,79.42 641.28,80.98 641.69,82.55 642.10,84.14 642.51,85.75 642.92,87.38 643.33,89.03 643.74,90.69 644.15,92.36 644.56,94.05 644.97,95.75 645.38,97.46 645.79,99.18 646.20,100.91 646.61,102.65 647.02,104.40 647.43,106.16 647.84,107.92 648.25,109.69 648.66,111.46 649.07,113.23 649.48,115.01 649.89,116.79 650.30,118.57 650.71,120.35 651.12,122.13 651.52,123.91 651.93,125.68 652.34,127.45 652.75,129.22 653.16,130.98 653.57,132.73 653.98,134.48 654.39,136.22 654.80,137.96 655.21,139.69 655.62,141.42 656.03,143.14 656.44,144.86 656.85,146.57 657.26,148.28 657.67,149.99 658.08,151.69 658.49,153.39 658.90,155.09 659.31,156.79 659.72,158.48 660.13,160.17 660.54,161.86 660.95,163.55 661.36,165.24 661.76,166.92 662.17,168.61 662.58,170.29 662.99,171.98 663.40,173.66 663.81,175.35 664.22,177.04 664.63,178.73 665.04,180.42 665.45,182.11 665.86,183.80 666.27,185.50 666.68,187.19 667.09,188.89 667.50,190.60 667.91,192.30 668.32,194.02 668.73,195.73 669.14,197.45 669.55,199.17 669.96,200.90 670.37,202.63 670.78,204.37 671.19,206.11 671.60,207.86 672.00,209.61 672.41,211.37 672.82,213.14 673.23,214.92 673.64,216.70 674.05,218.49 674.46,220.28 674.87,222.09 675.28,223.90 675.69,225.72 676.10,227.55 676.51,229.39 676.92,231.23 677.33,233.09 677.74,234.96 678.15,236.83 678.56,238.72 678.97,240.62 679.38,242.53 679.79,244.44 680.20,246.37 680.61,248.29 681.02,250.21 681.43,252.14 681.84,254.05 682.24,255.96 682.65,257.86 683.06,259.75 683.47,261.62 683.88,263.47 684.29,265.30 684.70,267.10 685.11,268.88 685.52,270.63 685.93,272.35 686.34,274.04 686.75,275.70 687.16,277.32 687.57,278.91 687.98,280.47 688.39,281.99 688.80,283.48 689.21,284.93 689.62,286.35 690.03,287.73 690.44,289.07 690.85,290.37 691.26,291.63 691.67,292.85 692.08,294.03 692.48,295.17 692.89,296.27 693.30,297.32 693.71,298.33 694.12,299.30 694.53,300.22 694.94,301.09 695.35,301.93 695.76,302.71 696.17,303.46 696.58,304.16 696.99,304.82 697.40,305.44 697.81,306.02 698.22,306.55 698.63,307.04 699.04,307.49 699.45,307.90 699.86,308.27 700.27,308.60 700.68,308.89 701.09,309.14 701.50,309.35 701.91,309.52 702.32,309.65 702.72,309.74 703.13,309.80 703.54,309.81 703.95,309.79 704.36,309.73 704.77,309.64 705.18,309.50 705.59,309.33 706.00,309.13 706.41,308.89 706.82,308.61 707.23,308.29 707.64,307.95 708.05,307.56 708.46,307.14 708.87,306.69 709.28,306.20 709.69,305.68 710.10,305.13 710.51,304.54 710.92,303.92 711.33,303.27 711.74,302.58 712.15,301.86 712.56,301.11 712.96,300.33 713.37,299.52 713.78,298.68 714.19,297.80 714.60,296.90 715.01,295.96 715.42,295.00 715.83,294.01 716.24,292.99 716.65,291.94 717.06,290.87 717.47,289.77 717.88,288.64 718.29,287.49 718.70,286.32 719.11,285.12 719.52,283.90 719.93,282.66 720.34,281.40 720.75,280.11 721.16,278.81 721.57,277.48 721.98,276.14 722.39,274.78 722.80,273.41 723.20,272.02 723.61,270.61 724.02,269.19 724.43,267.76 724.84,266.32 725.25,264.86 725.66,263.40 726.07,261.93 726.48,260.45 726.89,258.97 727.30,257.48 727.71,255.99 728.12,254.50 728.53,253.00 728.94,251.51 729.35,250.01 729.76,248.52 730.17,247.02 730.58,245.54 730.99,244.05 731.40,242.58 731.81,241.11 732.22,239.64 732.63,238.19 733.04,236.75 733.44,235.32 733.85,233.90 734.26,232.49 734.67,231.10 735.08,229.72 735.49,228.36 735.90,227.02 736.31,225.70 736.72,224.40 737.13,223.11 737.54,221.85 737.95,220.61 738.36,219.39 738.77,218.18 739.18,217.00 739.59,215.83 740.00,214.69 740.41,213.56 740.82,212.45 741.23,211.36 741.64,210.29 742.05,209.23 742.46,208.19 742.87,207.16 743.28,206.16 743.68,205.16 744.09,204.19 744.50,203.23 744.91,202.28 745.32,201.35 745.73,200.43 746.14,199.53 746.55,198.64 746.96,197.76 747.37,196.90 747.78,196.05 748.19,195.21 748.60,194.39 749.01,193.57 749.42,192.77 749.83,191.98 750.24,191.20 750.65,190.43 751.06,189.67 751.47,188.92 751.88,188.18 752.29,187.45 752.70,186.73 753.11,186.02 753.52,185.32 753.92,184.62 754.33,183.93 754.74,183.25 755.15,182.58 755.56,181.92 755.97,181.26 756.38,180.60 756.79,179.96 757.20,179.31 757.61,178.68 758.02,178.05 758.43,177.42 758.84,176.80 759.25,176.18 759.66,175.57 760.07,174.96 760.48,174.35 760.89,173.75 761.30,173.15 761.71,172.55 762.12,171.95 762.53,171.35 762.94,170.76 763.35,170.17 763.76,169.58 764.16,168.98 764.57,168.39 764.98,167.80 765.39,167.21 765.80,166.63 766.21,166.05 766.62,165.47 767.03,164.90 767.44,164.33 767.85,163.77 768.26,163.21 768.67,162.67 769.08,162.13 769.49,161.59 769.90,161.07 770.31,160.56 770.72,160.06 771.13,159.57 771.54,159.09 771.95,158.63 772.36,158.17 772.77,157.73 773.18,157.31 773.59,156.90 774.00,156.51 774.40,156.13 774.81,155.77 775.22,155.43 775.63,155.11 776.04,154.80 776.45,154.52 776.86,154.26 777.27,154.02 777.68,153.79 778.09,153.60 778.50,153.42 778.91,153.27 779.32,153.14 779.73,153.04 780.14,152.97 780.55,152.92 780.96,152.89 781.37,152.90 781.78,152.93 782.19,153.00 782.60,153.09 783.01,153.21 783.42,153.36 783.83,153.55 784.24,153.77 784.64,154.02 785.05,154.30 785.46,154.62 785.87,154.98 786.28,155.36 786.69,155.79 787.10,156.25 787.51,156.75 787.92,157.29 788.33,157.86 788.74,158.46 789.15,159.10 789.56,159.76 789.97,160.46 790.38,161.18 790.79,161.94 791.20,162.72 791.61,163.52 792.02,164.35 792.43,165.20 792.84,166.07 793.25,166.96 793.66,167.87 794.07,168.80 794.48,169.75 794.88,170.71 795.29,171.68 795.70,172.67 796.11,173.67 796.52,174.68 796.93,175.70 797.34,176.73 797.75,177.76 798.16,178.80 798.57,179.85 798.98,180.90 799.39,181.95 799.80,183.00 800.21,184.05 800.62,185.10 801.03,186.15 801.44,187.19 801.85,188.23 802.26,189.26 802.67,190.29 803.08,191.31 803.49,192.31 803.90,193.31 804.31,194.30 804.72,195.27 805.12,196.24 805.53,197.19 805.94,198.13 806.35,199.05 806.76,199.97 807.17,200.86 807.58,201.74 807.99,202.60 808.40,203.45 808.81,204.28 809.22,205.08 809.63,205.87 810.04,206.64 810.45,207.39 810.86,208.12 811.27,208.83 811.68,209.51 812.09,210.17 812.50,210.80 812.91,211.41 813.32,212.00 813.73,212.56 814.14,213.09 814.55,213.59 814.96,214.07 815.36,214.52 815.77,214.93 816.18,215.32 816.59,215.68 817.00,216.00 817.41,216.29 817.82,216.55 818.23,216.78 818.64,216.97 819.05,217.13 819.46,217.25 819.87,217.33 820.28,217.38 820.69,217.39 821.10,217.36 821.51,217.29 821.92,217.18 822.33,217.04 822.74,216.85 823.15,216.63 823.56,216.37 823.97,216.08 824.38,215.75 824.79,215.38 825.20,214.98 825.60,214.56 826.01,214.09 826.42,213.60 826.83,213.08 827.24,212.53 827.65,211.95 828.06,211.34 828.47,210.71 828.88,210.05 829.29,209.36 829.70,208.66 830.11,207.92 830.52,207.17 830.93,206.39 831.34,205.59 831.75,204.78 832.16,203.94 832.57,203.08 832.98,202.21 833.39,201.32 833.80,200.41 834.21,199.49 834.62,198.56 835.03,197.61 835.44,196.64 835.84,195.67 836.25,194.68 836.66,193.68 837.07,192.66 837.48,191.64 837.89,190.60 838.30,189.54 838.71,188.48 839.12,187.40 839.53,186.31 839.94,185.21 840.35,184.10 840.76,182.98 841.17,181.84 841.58,180.69 841.99,179.53 842.40,178.36 842.81,177.18 843.22,175.99 843.63,174.78 844.04,173.57 844.45,172.34 844.86,171.11 845.27,169.86 845.68,168.60 846.08,167.33 846.49,166.05 846.90,164.77 847.31,163.47 847.72,162.16 848.13,160.84 848.54,159.51 848.95,158.17 849.36,156.83 849.77,155.47 850.18,154.10 850.59,152.73 851.00,151.34 851.41,149.95 851.82,148.55 852.23,147.14 852.64,145.72 853.05,144.29 853.46,142.85 853.87,141.41 854.28,139.95 854.69,138.49 855.10,137.02 855.51,135.54 855.92,134.06 856.32,132.56 856.73,131.06 857.14,129.55 857.55,128.04 857.96,126.51 858.37,124.98 858.78,123.45 859.19,121.90 859.60,120.35 860.01,118.79 860.42,117.23 860.83,115.66 861.24,114.08 861.65,112.49 862.06,110.90 862.47,109.31 862.88,107.70 863.29,106.10 863.70,104.48 864.11,102.86 864.52,101.24 864.93,99.62 865.34,97.99 865.75,96.36 866.16,94.73 866.56,93.11 866.97,91.48 867.38,89.86 867.79,88.24 868.20,86.63 868.61,85.03 869.02,83.43 869.43,81.84 869.84,80.26 870.25,78.69 870.66,77.13 871.07,75.59 871.48,74.05 871.89,72.53 872.30,71.03 872.71,69.54 873.12,68.07 873.53,66.62 873.94,65.19 874.35,63.78 874.76,62.39 875.17,61.02 875.58,59.68 875.99,58.36 876.40,57.06 876.80,55.79 877.21,54.54 877.62,53.32 878.03,52.13 878.44,50.96 878.85,49.81 879.26,48.69 879.67,47.60 880.08,46.53 880.49,45.49 880.90,44.47 881.31,43.48 881.72,42.52 882.13,41.58 882.54,40.67 882.95,39.79 883.36,38.93 883.77,38.10 884.18,37.30 884.59,36.53 885.00,35.78 885.41,35.06 885.82,34.37 886.23,33.71 886.64,33.07 887.04,32.46 887.45,31.88 887.86,31.33 888.27,30.81 888.68,30.32 889.09,29.86 889.50,29.42 889.91,29.02 890.32,28.64 890.73,28.30 891.14,27.98 891.55,27.70 891.96,27.44 892.37,27.21 892.78,27.02 893.19,26.85 893.60,26.72 894.01,26.62 894.42,26.54 894.83,26.50 895.24,26.49 895.65,26.51 896.06,26.56 896.47,26.65 896.88,26.76 897.28,26.91 897.69,27.09 898.10,27.30 898.51,27.54 898.92,27.82 899.33,28.13 899.74,28.47 900.15,28.85 900.56,29.25 900.97,29.69 901.38,30.17 901.79,30.68 902.20,31.22 902.61,31.79 903.02,32.40 903.43,33.04 903.84,33.72 904.25,34.43 904.66,35.18 905.07,35.96 905.48,36.78 905.89,37.63 906.30,38.51 906.71,39.43 907.12,40.39 907.52,41.38 907.93,42.40 908.34,43.46 908.75,44.55 909.16,45.67 909.57,46.83 909.98,48.01 910.39,49.23 910.80,50.48 911.21,51.76 911.62,53.07 912.03,54.41 912.44,55.78 912.85,57.18 913.26,58.60 913.67,60.06 914.08,61.54 914.49,63.05 914.90,64.58 915.31,66.14 915.72,67.73 916.13,69.34 916.54,70.98 916.95,72.64 917.36,74.33 917.76,76.04 918.17,77.77 918.58,79.52 918.99,81.30 919.40,83.10 919.81,84.92 920.22,86.76 920.63,88.63 921.04,90.51 921.45,92.41 921.86,94.33 922.27,96.28 922.68,98.24 923.09,100.21 923.50,102.21 923.91,104.22 924.32,106.25 924.73,108.29 925.14,110.36 925.55,112.43 925.96,114.52 926.37,116.63 926.78,118.75 927.19,120.89 927.60,123.03 928.00,125.19 928.41,127.37 928.82,129.55 929.23,131.75 929.64,133.96 930.05,136.18 930.46,138.41 930.87,140.64 931.28,142.89 931.69,145.15 932.10,147.42 932.51,149.69 932.92,151.97 933.33,154.26 933.74,156.56 934.15,158.86 934.56,161.17 934.97,163.48 935.38,165.80 935.79,168.13 936.20,170.46 936.61,172.79 937.02,175.13 937.43,177.46 937.84,179.81 938.24,182.15 938.65,184.50 939.06,186.84 939.47,189.19 939.88,191.54 940.29,193.88 940.70,196.22 941.11,198.55 941.52,200.87 941.93,203.18 942.34,205.48 942.75,207.76 943.16,210.02 943.57,212.26 943.98,214.49 944.39,216.69 944.80,218.86 945.21,221.01 945.62,223.12 946.03,225.21 946.44,227.26 946.85,229.27 947.26,231.25 947.67,233.18 948.08,235.08 948.48,236.95 948.89,238.77 949.30,240.56 949.71,242.32 950.12,244.05 950.53,245.75 950.94,247.41 951.35,249.05 951.76,250.67 952.17,252.26 952.58,253.83 952.99,255.37 953.40,256.90 953.81,258.40 954.22,259.89 954.63,261.36 955.04,262.81 955.45,264.26 955.86,265.69 956.27,267.11 956.68,268.52 957.09,269.92 957.50,271.31 957.91,272.70 958.32,274.09 958.72,275.47 959.13,276.85 959.54,278.24 959.95,279.62 960.36,281.01 960.77,282.40 961.18,283.78 961.59,285.17 962.00,286.54 962.41,287.91 962.82,289.27 963.23,290.62 963.64,291.95 964.05,293.27 964.46,294.56 964.87,295.84 965.28,297.09 965.69,298.31 966.10,299.51 966.51,300.67 966.92,301.80 967.33,302.90 967.74,303.96 968.15,304.98 968.56,305.96 968.96,306.89 969.37,307.78 969.78,308.61 970.19,309.40 970.60,310.13 971.01,310.81 971.42,311.44 971.83,312.01 972.24,312.54 972.65,313.01 973.06,313.43 973.47,313.81 973.88,314.13 974.29,314.41 974.70,314.65 975.11,314.84 975.52,314.98 975.93,315.08 976.34,315.14 976.75,315.16 977.16,315.14 977.57,315.08 977.98,314.98 978.39,314.84 978.80,314.67 979.20,314.46 979.61,314.22 980.02,313.94 980.43,313.63 980.84,313.28 981.25,312.91 981.66,312.51 982.07,312.07 982.48,311.61 982.89,311.12 983.30,310.61 983.71,310.06 984.12,309.50 984.53,308.91 984.94,308.29 985.35,307.66 985.76,307.00 986.17,306.33 986.58,305.63 986.99,304.92 987.40,304.19 987.81,303.44 988.22,302.68 988.63,301.90 989.04,301.11 989.44,300.31 989.85,299.49 990.26,298.66 990.67,297.83 991.08,296.98 991.49,296.13 991.90,295.27 992.31,294.40 992.72,293.52 993.13,292.65 993.54,291.77 993.95,290.88 994.36,290.00 994.77,289.11 995.18,288.22 995.59,287.34 996.00,286.46 996.41,285.57 996.82,284.70 997.23,283.83 997.64,282.96 998.05,282.10 998.46,281.25 998.87,280.40 999.28,279.57 999.68,278.74 1000.09,277.93 1000.50,277.13 1000.91,276.34 1001.32,275.56 1001.73,274.80 1002.14,274.06 1002.55,273.33 1002.96,272.62 1003.37,271.93 1003.78,271.25 1004.19,270.60 1004.60,269.97 1005.01,269.36 1005.42,268.77 1005.83,268.21 1006.24,267.67 1006.65,267.16 1007.06,266.68 1007.47,266.22 1007.88,265.79 1008.29,265.39 1008.70,265.02 1009.11,264.68 1009.52,264.38 1009.92,264.11 1010.33,263.87 1010.74,263.66 1011.15,263.50 1011.56,263.36 1011.97,263.27 1012.38,263.22 1012.79,263.20 1013.20,263.23 1013.61,263.29 1014.02,263.40" fill="none" stroke="#ff0000" stroke-width="3" stroke-linejoin="round"/>
</g>
<line x1="594.5" y1="10" x2="1015.9" y2="10" stroke="#3a3a3a"/>
<line x1="594.5" y1="343" x2="1015.9" y2="343" stroke="#9b9b9b"/>
<line x1="595.0" y1="9.5" x2="595.0" y2="343.5" stroke="#9b9b9b"/>
<line x1="1015.4" y1="9.5" x2="1015.4" y2="343.5" stroke="#b0b0b0"/>
<line x1="595.00" y1="342.8" x2="595.00" y2="338.8" stroke="#333" stroke-width="0.8"/>
<line x1="595.00" y1="9.8" x2="595.00" y2="13.8" stroke="#333" stroke-width="0.8"/>
<text transform="translate(595.00,358.70) scale(0.9200,1.0000)" text-anchor="middle" font-size="14.0" fill="#000" stroke="#000" stroke-width="0.22">0</text>
<line x1="676.92" y1="342.8" x2="676.92" y2="338.8" stroke="#333" stroke-width="0.8"/>
<line x1="676.92" y1="9.8" x2="676.92" y2="13.8" stroke="#333" stroke-width="0.8"/>
<text transform="translate(676.92,358.70) scale(0.9200,1.0000)" text-anchor="middle" font-size="14.0" fill="#000" stroke="#000" stroke-width="0.22">200</text>
<line x1="758.84" y1="342.8" x2="758.84" y2="338.8" stroke="#333" stroke-width="0.8"/>
<line x1="758.84" y1="9.8" x2="758.84" y2="13.8" stroke="#333" stroke-width="0.8"/>
<text transform="translate(758.84,358.70) scale(0.9200,1.0000)" text-anchor="middle" font-size="14.0" fill="#000" stroke="#000" stroke-width="0.22">400</text>
<line x1="840.76" y1="342.8" x2="840.76" y2="338.8" stroke="#333" stroke-width="0.8"/>
<line x1="840.76" y1="9.8" x2="840.76" y2="13.8" stroke="#333" stroke-width="0.8"/>
<text transform="translate(840.76,358.70) scale(0.9200,1.0000)" text-anchor="middle" font-size="14.0" fill="#000" stroke="#000" stroke-width="0.22">600</text>
<line x1="922.68" y1="342.8" x2="922.68" y2="338.8" stroke="#333" stroke-width="0.8"/>
<line x1="922.68" y1="9.8" x2="922.68" y2="13.8" stroke="#333" stroke-width="0.8"/>
<text transform="translate(922.68,358.70) scale(0.9200,1.0000)" text-anchor="middle" font-size="14.0" fill="#000" stroke="#000" stroke-width="0.22">800</text>
<line x1="1004.60" y1="342.8" x2="1004.60" y2="338.8" stroke="#333" stroke-width="0.8"/>
<line x1="1004.60" y1="9.8" x2="1004.60" y2="13.8" stroke="#333" stroke-width="0.8"/>
<text transform="translate(1004.60,358.70) scale(0.9200,1.0000)" text-anchor="middle" font-size="14.0" fill="#000" stroke="#000" stroke-width="0.22">1000</text>
<line x1="595.0" y1="342.06" x2="599.5" y2="342.06" stroke="#333" stroke-width="0.8"/>
<line x1="1015.4" y1="342.06" x2="1010.9" y2="342.06" stroke="#333" stroke-width="0.8"/>
<text transform="translate(590.70,345.76) scale(0.9200,1.0000)" text-anchor="end" font-size="14.0" fill="#000" stroke="#000" stroke-width="0.22">-2</text>
<line x1="595.0" y1="300.55" x2="599.5" y2="300.55" stroke="#333" stroke-width="0.8"/>
<line x1="1015.4" y1="300.55" x2="1010.9" y2="300.55" stroke="#333" stroke-width="0.8"/>
<text transform="translate(590.70,304.25) scale(0.9200,1.0000)" text-anchor="end" font-size="14.0" fill="#000" stroke="#000" stroke-width="0.22">-1.5</text>
<line x1="595.0" y1="259.03" x2="599.5" y2="259.03" stroke="#333" stroke-width="0.8"/>
<line x1="1015.4" y1="259.03" x2="1010.9" y2="259.03" stroke="#333" stroke-width="0.8"/>
<text transform="translate(590.70,262.73) scale(0.9200,1.0000)" text-anchor="end" font-size="14.0" fill="#000" stroke="#000" stroke-width="0.22">-1</text>
<line x1="595.0" y1="217.51" x2="599.5" y2="217.51" stroke="#333" stroke-width="0.8"/>
<line x1="1015.4" y1="217.51" x2="1010.9" y2="217.51" stroke="#333" stroke-width="0.8"/>
<text transform="translate(590.70,221.21) scale(0.9200,1.0000)" text-anchor="end" font-size="14.0" fill="#000" stroke="#000" stroke-width="0.22">-0.5</text>
<line x1="595.0" y1="176.00" x2="599.5" y2="176.00" stroke="#333" stroke-width="0.8"/>
<line x1="1015.4" y1="176.00" x2="1010.9" y2="176.00" stroke="#333" stroke-width="0.8"/>
<text transform="translate(590.70,179.70) scale(0.9200,1.0000)" text-anchor="end" font-size="14.0" fill="#000" stroke="#000" stroke-width="0.22">0</text>
<line x1="595.0" y1="134.49" x2="599.5" y2="134.49" stroke="#333" stroke-width="0.8"/>
<line x1="1015.4" y1="134.49" x2="1010.9" y2="134.49" stroke="#333" stroke-width="0.8"/>
<text transform="translate(590.70,138.19) scale(0.9200,1.0000)" text-anchor="end" font-size="14.0" fill="#000" stroke="#000" stroke-width="0.22">0.5</text>
<line x1="595.0" y1="92.97" x2="599.5" y2="92.97" stroke="#333" stroke-width="0.8"/>
<line x1="1015.4" y1="92.97" x2="1010.9" y2="92.97" stroke="#333" stroke-width="0.8"/>
<text transform="translate(590.70,96.67) scale(0.9200,1.0000)" text-anchor="end" font-size="14.0" fill="#000" stroke="#000" stroke-width="0.22">1</text>
<line x1="595.0" y1="51.45" x2="599.5" y2="51.45" stroke="#333" stroke-width="0.8"/>
<line x1="1015.4" y1="51.45" x2="1010.9" y2="51.45" stroke="#333" stroke-width="0.8"/>
<text transform="translate(590.70,55.16) scale(0.9200,1.0000)" text-anchor="end" font-size="14.0" fill="#000" stroke="#000" stroke-width="0.22">1.5</text>
<line x1="595.0" y1="9.94" x2="599.5" y2="9.94" stroke="#333" stroke-width="0.8"/>
<line x1="1015.4" y1="9.94" x2="1010.9" y2="9.94" stroke="#333" stroke-width="0.8"/>
<text transform="translate(590.70,13.64) scale(0.9200,1.0000)" text-anchor="end" font-size="14.0" fill="#000" stroke="#000" stroke-width="0.22">2</text>
<text transform="translate(803.30,376.60) scale(1.0000,1.0600)" text-anchor="middle" font-size="13.6" fill="#000" stroke="#000" stroke-width="0.22">(b) Sample points</text>
<rect x="670.3" y="16.3" width="148.1" height="44.0" fill="#fff" stroke="#666" stroke-width="1"/>
<line x1="678.6" y1="27.4" x2="721.1" y2="27.4" stroke="#0000ff" stroke-width="3"/>
<line x1="678.6" y1="47.8" x2="721.1" y2="47.8" stroke="#ff0000" stroke-width="3"/>
<text transform="translate(726.00,32.80) scale(1.0000,1.0600)" font-size="13.6" fill="#000" stroke="#000" stroke-width="0.22">Original signal</text>
<text transform="translate(726.00,53.00) scale(1.0000,1.0600)" font-size="13.6" fill="#000" stroke="#000" stroke-width="0.22">Filtered signal</text>
</svg></body></html>
